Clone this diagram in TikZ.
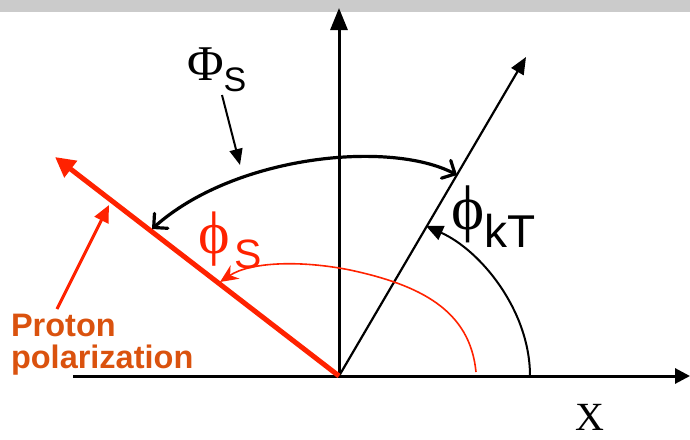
\documentclass[tikz,border=0pt]{standalone}
\usepackage{fontspec}
\setmainfont{Liberation Serif}
\newfontfamily\arial{Liberation Sans}
\usetikzlibrary{arrows.meta}
\definecolor{pred}{RGB}{255,34,0}
\definecolor{porange}{RGB}{218,82,14}
\definecolor{bargray}{RGB}{203,203,203}
\tikzset{
  txt/.style={anchor=base west, inner sep=0pt, outer sep=0pt},
  chev/.style={line width=3.2pt, line cap=round, {Straight Barb[length=10pt,width=20pt,line cap=round]}-{Straight Barb[length=10pt,width=20pt,line cap=round]}},
}
\begin{document}
\begin{tikzpicture}[x=1pt,y=-1pt]
\useasboundingbox (0,0) rectangle (690,439);
\fill[bargray] (0,0) rectangle (690,12);
% coordinates
\coordinate (O) at (339,376);
\coordinate (xs) at (73,376);
\coordinate (xe) at (690,376);
\coordinate (ye) at (339,8);
\coordinate (de) at (526,57);
\coordinate (re) at (55,157);
\coordinate (arcL) at (152,229);
\coordinate (arcR) at (457,175);
\coordinate (kTs) at (530,376);
\coordinate (kTe) at (426,226);
\coordinate (rs) at (476,372);
\coordinate (rm) at (350,270);
\coordinate (ret) at (220,282);
\coordinate (phiAs) at (222,95);
\coordinate (phiAe) at (240,165);
\coordinate (prs) at (57,309);
\coordinate (pre) at (109,205);
% axes
\draw[line width=3pt, -{Triangle[length=15pt,width=15pt]}] (xs) -- (xe);
\draw[line width=3pt, -{Triangle[length=22pt,width=17pt]}] (O) -- (ye);
\draw[line width=2.2pt, -{Triangle[length=17pt,width=14pt]}] (O) -- (de);
\draw[pred, line width=5pt, -{Triangle[length=20pt,width=20pt]}] (O) -- (re);
% Phi_S arc
\draw[chev] (arcL) .. controls (235,155) and (390,140) .. (arcR);
% phi_kT arc
\draw[line width=2pt, -{Triangle[length=17pt,width=15pt]}] (kTs) .. controls (530,310) and (480,250) .. (kTe);
% red phi_S arc
\draw[pred, line width=1.6pt, -{Stealth[length=18pt,width=16pt]}] (rs) .. controls (470,310) and (420,285) .. (rm) .. controls (300,260) and (250,262) .. (ret);
% label arrows
\draw[line width=2pt, -{Triangle[length=16pt,width=13pt]}] (phiAs) -- (phiAe);
\draw[pred, line width=3pt, -{Triangle[length=17pt,width=15pt]}] (prs) -- (pre);
% labels
\node[txt, font=\fontsize{50}{50}\selectfont] (PhiS) at (187,80) {Φ\raisebox{-11pt}{\arial\fontsize{34}{34}\selectfont S}};
\node[txt, font=\fontsize{63}{63}\selectfont] (phikT) at (451,229) {ϕ\raisebox{-18pt}{\arial\fontsize{46}{46}\selectfont kT}};
\node[txt, pred, font=\fontsize{60}{60}\selectfont] (phiS) at (198,253) {ϕ\hspace{5pt}\raisebox{-15pt}{\arial\fontsize{41}{41}\selectfont S}};
\node[txt, font=\fontsize{40}{40}\selectfont] (X) at (575,430) {X};
\node[txt, porange, font=\arial\bfseries\fontsize{32.5}{32.5}\selectfont] (pr1) at (11,336) {Proton};
\node[txt, porange, font=\arial\bfseries\fontsize{32.5}{32.5}\selectfont] (pr2) at (11,368) {polarization};
\end{tikzpicture}
\end{document}
